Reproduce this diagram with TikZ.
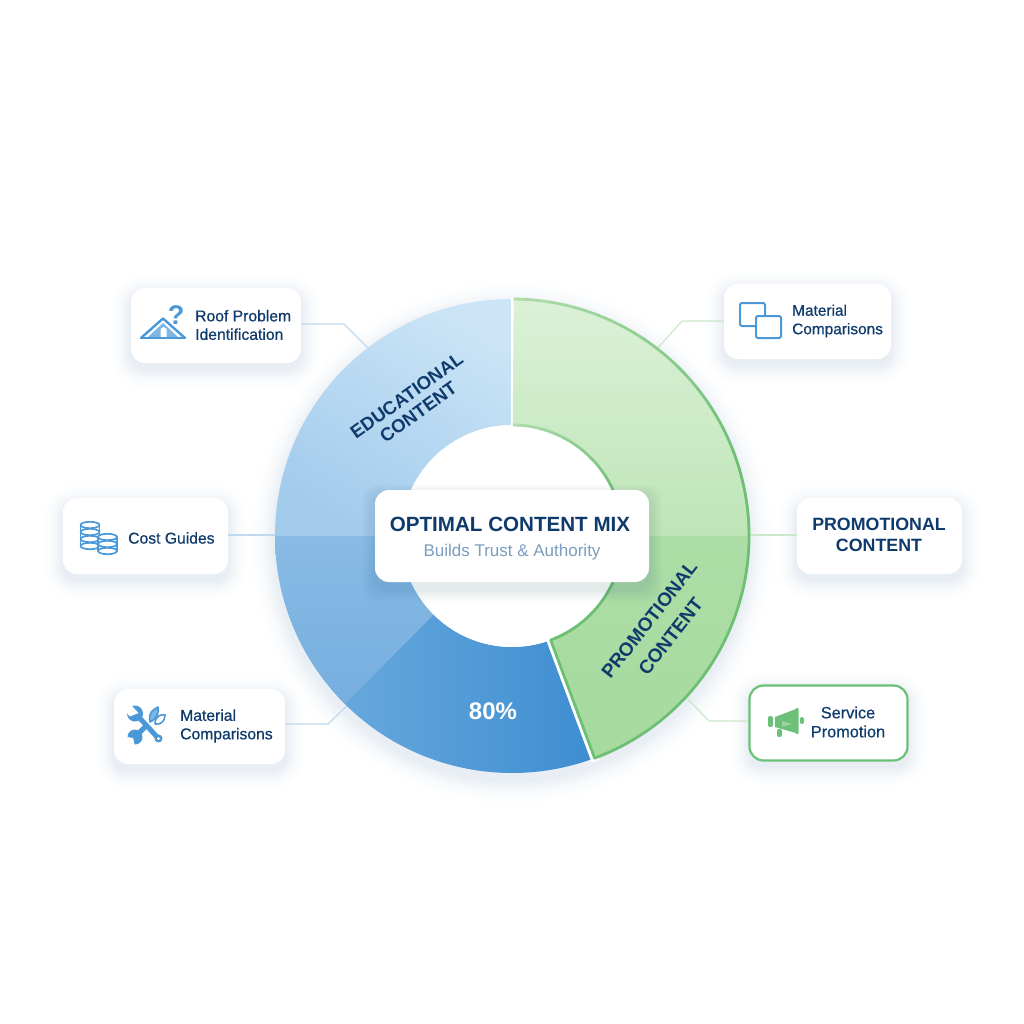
\documentclass[tikz,border=0pt]{standalone}
\usepackage{fontspec}
\setmainfont{Liberation Sans}
\newfontfamily\medfont[FakeBold=0.6]{Liberation Sans}
\usetikzlibrary{calc}
\definecolor{navy}{HTML}{0F3B6C}
\definecolor{iconblue}{HTML}{4A98D8}
\definecolor{iconlight}{HTML}{7DB6E5}
\definecolor{icongreen}{HTML}{6CC077}
\definecolor{linkblue}{HTML}{BFDAF0}
\definecolor{linkgreen}{HTML}{CBE8C8}
\definecolor{ringgreen}{HTML}{6DBF74}
\definecolor{ringlight}{HTML}{B4DEAF}
\definecolor{subgrey}{HTML}{7C9DBE}
\definecolor{shadowc}{HTML}{1F4068}
\definecolor{shadowtone}{HTML}{E6ECF3}
\definecolor{bA}{HTML}{A2CBEC}
\definecolor{bB}{HTML}{CBE4F6}
\definecolor{bC}{HTML}{88BBE5}
\definecolor{bD}{HTML}{76AEDF}
\definecolor{bE}{HTML}{66A8DD}
\definecolor{bF}{HTML}{3D8DD1}
\definecolor{gA}{HTML}{DBF1D6}
\definecolor{gB}{HTML}{BEE5B8}
\definecolor{gC}{HTML}{ACDDA6}
\definecolor{gD}{HTML}{A6DA9F}
\tikzset{
  card/.style={fill=white,rounded corners=14pt,draw=none,inner sep=0pt},
  lab/.style={text=navy,font=\medfont\fontsize{15.7}{18.5}\selectfont,align=left,inner sep=0pt},
  link/.style={line width=1.2pt,line join=round},
  ringlab/.style={text=navy,font=\bfseries\fontsize{18.5}{20}\selectfont,align=center,inner sep=0pt},
  ico/.style={draw=iconblue,line width=2pt,line join=round,line cap=round}
}
\newcommand{\secpath}[2]{([shift={(512,536)}]-#1:237) arc[start angle={-#1},end angle={-#2},radius=237] -- ([shift={(512,536)}]-#2:111) arc[start angle={-#2},end angle={-#1},radius=111] -- cycle}
\newcommand{\softshadow}[4]{%
  \foreach \i in {14,...,1}{
    \pgfmathsetmacro{\p}{100*(1-\i/15)*(1-\i/15)}
    \pgfmathsetmacro{\rr}{14+\i*1.5}
    \fill[shadowtone!\p!white,rounded corners=\rr pt]
      ({#1-\i*1.6},{#2-\i*1.6+6}) rectangle ({#3+\i*1.6},{#4+\i*1.6+6});
  }}
\newcommand{\coin}[3]{% x centre, y top, layers
  \fill[white] ({#1-9.5},#2) rectangle ({#1+9.5},{#2+#3*7+3.4});
  \foreach \k in {#3,...,0}{
    \draw[ico,line width=1.7pt,fill=white] (#1,{#2+\k*7}) ellipse [x radius=9.5,y radius=3.2];
  }
  \draw[ico,line width=1.7pt] ({#1-9.5},#2) -- ({#1-9.5},{#2+#3*7});
  \draw[ico,line width=1.7pt] ({#1+9.5},#2) -- ({#1+9.5},{#2+#3*7});}
\begin{document}
\begin{tikzpicture}[x=1pt,y=-1pt]
\useasboundingbox (0,0) rectangle (1024,1024);
\fill[white] (0,0) rectangle (1024,1024);
% donut shadow
\foreach \i in {14,...,1}{
  \pgfmathsetmacro{\p}{100*(1-\i/15)*(1-\i/15)}
  \fill[shadowtone!\p!white] (512,543) circle ({237+\i*2});}
\softshadow{131}{288}{301}{363}
\softshadow{63}{498}{228}{574}
\softshadow{114}{689}{285}{764}
\softshadow{724}{284}{891}{359}
\softshadow{797}{498}{962}{574}
\softshadow{749}{685}{908}{761}
% cards
\node[card,minimum width=170pt,minimum height=75pt] (roof) at (216,325.5) {};
\node[card,minimum width=165pt,minimum height=76pt] (cost) at (145.5,536) {};
\node[card,minimum width=171pt,minimum height=75pt] (tools) at (199.5,726.5) {};
\node[card,minimum width=167pt,minimum height=75pt] (mat) at (807.5,321.5) {};
\node[card,minimum width=165pt,minimum height=76pt] (promo) at (879.5,536) {};
\node[card,draw=icongreen,line width=2.2pt,minimum width=158pt,minimum height=75pt] (serv) at (828.5,723) {};
% connector points
\coordinate (r1) at (344,324); \coordinate (r2) at (370,350);
\coordinate (c1) at (277,535);
\coordinate (t1) at (328,724); \coordinate (t2) at (349,704);
\coordinate (m1) at (682,321); \coordinate (m2) at (655,351);
\coordinate (p1) at (747,535);
\coordinate (s1) at (709,721); \coordinate (s2) at (684,695);
\draw[link,linkblue] (roof.east |- r1) -- (r1) -- (r2);
\draw[link,linkblue] (cost.east |- c1) -- (c1);
\draw[link,linkblue] (tools.east |- t1) -- (t1) -- (t2);
\draw[link,linkgreen] (mat.west |- m1) -- (m1) -- (m2);
\draw[link,linkgreen] (promo.west |- p1) -- (p1);
\draw[link,linkgreen] (serv.west |- s1) -- (s1) -- (s2);
% donut slices
\shade[bottom color=bA,top color=bB,shading angle=-30] \secpath{90}{180};
\shade[top color=bC,bottom color=bD] \secpath{180}{225};
\shade[left color=bE,right color=bF] \secpath{225}{291};
\fill[white] (512,536) circle (111);
% white gaps
\draw[white,line width=8.5pt] ([shift={(512,536)}]-290.4:109) -- ([shift={(512,536)}]-290.4:240);
\draw[white,line width=3pt] ([shift={(512,536)}]-90:110) -- ([shift={(512,536)}]-90:238);
\shade[top color=gA,bottom color=gB] \secpath{0}{89.6};
\shade[top color=gC,bottom color=gD] \secpath{290.4}{360};
% green rim: solid on the lower part, fading towards the top
\draw[ringgreen,line width=2.8pt,line join=round]
  ([shift={(512,536)}]-15:111) arc[start angle=-15,end angle=69.6,radius=111]
  -- ([shift={(512,536)}]69.6:237) arc[start angle=69.6,end angle=-15,radius=237];
\foreach \a in {15,21,...,87}{
  \pgfmathsetmacro{\q}{100*(\a-15)/75}
  \pgfmathsetmacro{\b}{min(\a+6.2,89.6)}
  \draw[ringlight!\q!ringgreen,line width=2.8pt] ([shift={(512,536)}]-\a:237) arc[start angle={-\a},end angle={-\b},radius=237];
  \draw[ringlight!\q!ringgreen,line width=2.8pt] ([shift={(512,536)}]-\a:111) arc[start angle={-\a},end angle={-\b},radius=111];
}
% center card
\foreach \i in {1,...,7}{
  \fill[shadowc,opacity=0.015,rounded corners=14pt]
    ({375-\i*1.8},{490-\i*1.8+7}) rectangle ({649+\i*1.8},{582+\i*1.8+7});}
\node[card,minimum width=274pt,minimum height=92pt] (centre) at (512,536) {};
\node[text=navy,font=\bfseries\fontsize{20.6}{24}\selectfont,inner sep=0pt] (title) at (510,524) {OPTIMAL CONTENT MIX};
\node[text=subgrey,font=\fontsize{17}{20}\selectfont,inner sep=0pt] (sub) at (512,552) {Builds Trust \& Authority};
% ring labels
\node[ringlab,rotate=35.5] (edu) at (412.5,404) {EDUCATIONAL\\CONTENT};
\node[ringlab,rotate=52,font=\bfseries\fontsize{19}{27}\selectfont] (prm) at (660,628) {PROMOTIONAL\\CONTENT};
\node[text=white,font=\bfseries\fontsize{24}{26}\selectfont,inner sep=0pt] (pct) at (493,711) {80\%};
% card labels
\node[lab,anchor=west] (roofl) at (195,325) {Roof Problem\\Identification};
\node[lab,anchor=west] (costl) at (128,538) {Cost Guides};
\node[lab,anchor=west] (tooll) at (180,726) {Material\\Comparisons};
\node[lab,anchor=west,font=\medfont\fontsize{15.4}{18.5}\selectfont] (matl) at (792,321) {Material\\Comparisons};
\node[text=navy,font=\bfseries\fontsize{17.8}{20.5}\selectfont,align=center,inner sep=0pt] (prol) at (879,535) {PROMOTIONAL\\CONTENT};
\node[lab,align=center,font=\medfont\fontsize{16.3}{19}\selectfont] (servl) at (848,722) {Service\\Promotion};
% roof icon
\fill[iconlight] (147,338) -- (163,323) -- (179,338) -- cycle;
\fill[white] (160.5,338) -- (160.5,329) -- (163.5,327) -- (166.5,329) -- (166.5,338) -- cycle;
\draw[ico,line width=2.4pt] (141,338) -- (163,318.5) -- (185,338);
\draw[iconblue,line width=2pt] (141,338.4) -- (185,338.4);
\node[text=iconblue,font=\bfseries\fontsize{27}{27}\selectfont,inner sep=0pt] (qm) at (176,315) {?};
% coins icon
\coin{90}{525}{3}
\coin{107.5}{537}{2}
% tools icon
\draw[iconblue,line width=5pt] (136,714) -- (158,738);
\fill[iconblue] (135,713.5) circle (8);
\fill[white] (131,705) -- (138.5,713) -- (130,716.5) -- (125,711) -- cycle;
\fill[iconblue] (158.5,738.5) circle (4);
\fill[white] (158.5,738.5) circle (1.5);
\draw[iconblue,line width=5pt] (135,737) -- (148,724);
\fill[iconblue] (135,737) circle (7.5);
\fill[white] (127,737) -- (133,738) -- (135,746) -- (129,747) -- cycle;
\draw[ico,line width=1.6pt,fill=iconlight] (150,722) .. controls (148,712) and (153,710) .. (158,707) .. controls (159,713) and (157,719) .. (150,722);
\draw[ico,line width=1.6pt,fill=white] (155,724) .. controls (155,716) and (161,714) .. (165,715) .. controls (165,721) and (161,725) .. (155,724);
% squares icon
\draw[ico,rounded corners=1.5pt] (740,303) rectangle (765,326);
\draw[ico,rounded corners=1.5pt,fill=white] (756,316) rectangle (781,338);
% megaphone icon
\fill[icongreen] (775,717) -- (796,709) -- (796,733) -- (775,727) -- cycle;
\fill[icongreen!70!white] (782,721) -- (792,724) -- (782,727) -- cycle;
\fill[icongreen,rounded corners=1.5pt] (795.5,707.5) rectangle (798.5,734.5);
\fill[icongreen,rounded corners=2pt] (768,716) rectangle (773,727);
\fill[icongreen,rounded corners=2pt] (800,717) rectangle (804,724);
\fill[icongreen,rounded corners=2pt] (777,729) rectangle (782,737);
\end{tikzpicture}
\end{document}
